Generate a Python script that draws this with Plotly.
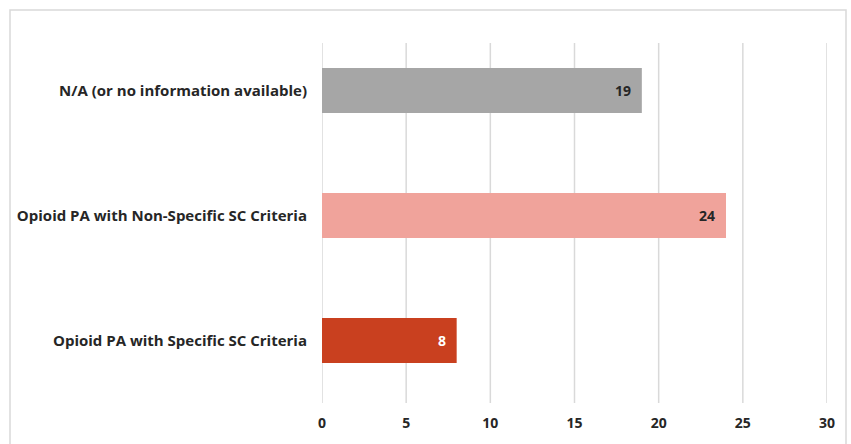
import plotly.graph_objects as go

categories = ["Opioid PA with Specific SC Criteria",
              "Opioid PA with Non-Specific SC Criteria",
              "N/A (or no information available)"]
values = [8, 24, 19]
colors = ["#C9401F", "#F0A39B", "#A6A6A6"]
text_colors = ["#FFFFFF", "#262626", "#262626"]
tick_vals = [0, 5, 10, 15, 20, 25, 30]

W, H = 851, 444
L, R, T, B = 322, 24, 28, 41
pw = W - L - R
ph = H - T - B
FONT = "Open Sans"

fig = go.Figure(go.Bar(
    y=categories, x=values, orientation="h",
    marker=dict(color=colors, line=dict(width=0)),
    width=0.36, hoverinfo="x+y",
))

for c, v, tc in zip(categories, values, text_colors):
    fig.add_annotation(x=v, y=c, text=str(v), showarrow=False,
                       xanchor="right", xshift=-9,
                       font=dict(family=FONT, size=14, color=tc, weight="bold"))

grid_top = 1 - (43 - T) / ph
shapes = [dict(type="line", xref="x", yref="paper", x0=t, x1=t, y0=0, y1=grid_top,
               line=dict(color="#D9D9D9", width=1.5), layer="below") for t in tick_vals]
shapes.append(dict(type="rect", xref="paper", yref="paper",
                   x0=(10 - L) / pw, x1=(846 - L) / pw,
                   y0=-0.3, y1=1 + (T - 10) / ph,
                   line=dict(color="#D9D9D9", width=1.5), fillcolor="rgba(0,0,0,0)"))

fig.update_layout(
    width=W, height=H,
    margin=dict(l=L, r=R, t=T, b=B),
    paper_bgcolor="white", plot_bgcolor="white",
    showlegend=False,
    font=dict(family=FONT, color="#262626", size=12),
    xaxis=dict(range=[0, 30], tickvals=tick_vals, showgrid=False,
               zeroline=False, showline=False, ticks="",
               ticklabelstandoff=10,
               tickfont=dict(family=FONT, size=14, color="#262626", weight="bold")),
    yaxis=dict(showgrid=False, zeroline=False, showline=False, ticks="",
               ticklabelstandoff=14,
               tickfont=dict(family=FONT, size=15, color="#262626", weight="bold")),
    shapes=shapes,
)
fig.write_html("out.html")
